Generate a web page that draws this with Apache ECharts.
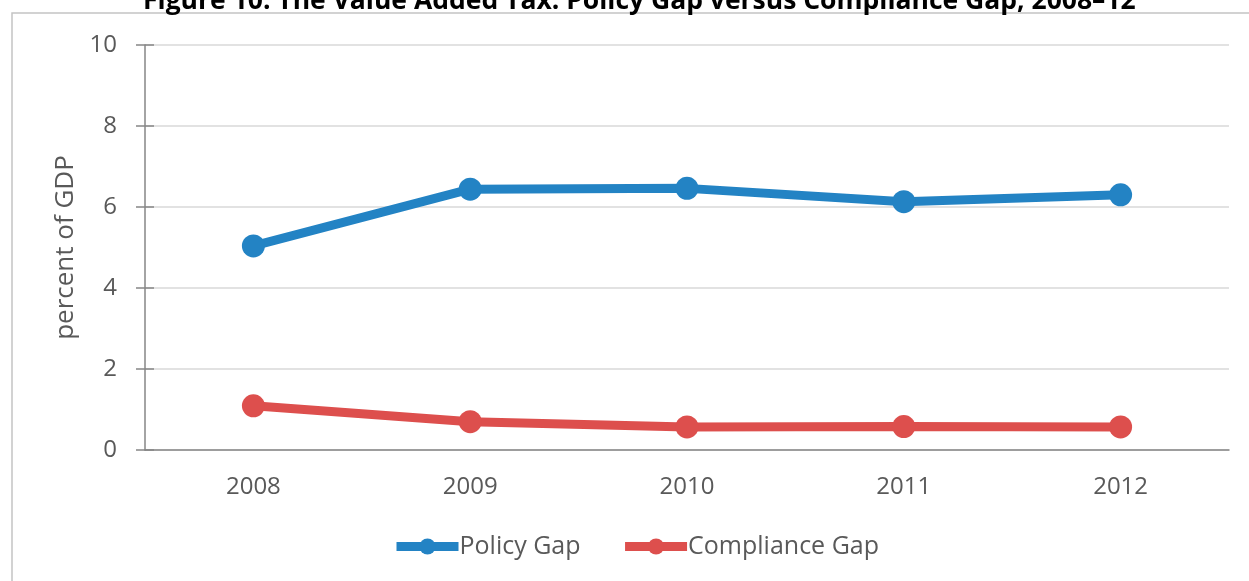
<!DOCTYPE html>
<html>
<head>
<meta charset="utf-8">
<script src="https://cdn.jsdelivr.net/npm/echarts@6/dist/echarts.min.js"></script>
<style>
  html, body { margin: 0; padding: 0; background: #fff; }
  #chart { width: 1249px; height: 581px; }
</style>
</head>
<body>
<div id="chart"></div>
<script>
const years = ['2008', '2009', '2010', '2011', '2012']
const policyGap = [5.04, 6.44, 6.46, 6.13, 6.30]
const complianceGap = [1.09, 0.70, 0.57, 0.58, 0.57]
const yTicks = [0, 2, 4, 6, 8, 10]

const labelColor = '#595959'
const axisColor = '#868686'
const fontFamily = '"Open Sans", "Noto Sans", sans-serif'

const chart = echarts.init(document.getElementById('chart'))

const option = {
  animation: false,
  title: {
    text: 'Figure 10: The Value Added Tax: Policy Gap versus Compliance Gap, 2008–12',
    left: 138,
    top: -17,
    textStyle: { fontFamily, fontSize: 26.5, fontWeight: 'bold', color: '#000' }
  },
  graphic: [{
    type: 'rect',
    shape: { x: 12, y: 13, width: 1300, height: 620 },
    style: { fill: 'none', stroke: '#c4c4c4', lineWidth: 1.5 },
    silent: true
  }],
  legend: {
    top: 529,
    left: 387,
    itemWidth: 62,
    itemHeight: 20,
    itemGap: 40,
    lineStyle: { width: 9 },
    textStyle: { fontFamily, fontSize: 25, color: labelColor, padding: [0, 0, 0, -4] },
    data: ['Policy Gap', 'Compliance Gap']
  },
  grid: { left: 145, right: 20, top: 45, bottom: 131 },
  xAxis: [{
    type: 'category',
    data: years,
    position: 'bottom',
    boundaryGap: true,
    axisLine: { lineStyle: { color: axisColor, width: 1.5 } },
    axisTick: { length: 9, lineStyle: { color: axisColor, width: 1.5 } },
    axisLabel: { margin: 25, fontFamily, fontSize: 24, color: labelColor }
  }, {
    type: 'category',
    data: years,
    position: 'bottom',
    boundaryGap: true,
    axisLine: { show: false },
    axisTick: { inside: true, length: 9, lineStyle: { color: axisColor, width: 1.5 } },
    axisLabel: { show: false }
  }],
  yAxis: [{
    type: 'value',
    min: yTicks[0],
    max: yTicks[yTicks.length - 1],
    interval: 2,
    position: 'left',
    name: 'percent of GDP',
    nameLocation: 'middle',
    nameGap: 62,
    nameTextStyle: { fontFamily, fontSize: 26, color: labelColor },
    axisLine: { show: true, lineStyle: { color: axisColor, width: 1.5 } },
    axisTick: { show: true, length: 9, lineStyle: { color: axisColor, width: 1.5 } },
    axisLabel: { margin: 28, fontFamily, fontSize: 24, color: labelColor },
    splitLine: { lineStyle: { color: '#d9d9d9', width: 1.5 } }
  }, {
    type: 'value',
    min: yTicks[0],
    max: yTicks[yTicks.length - 1],
    interval: 2,
    position: 'left',
    axisLine: { show: false },
    axisTick: { show: true, inside: true, length: 9, lineStyle: { color: axisColor, width: 1.5 } },
    axisLabel: { show: false },
    splitLine: { show: false }
  }],
  series: [
    {
      name: 'Policy Gap',
      type: 'line',
      data: policyGap,
      symbol: 'circle',
      symbolSize: 23,
      lineStyle: { width: 9, color: '#2383c4' },
      itemStyle: { color: '#2383c4' }
    },
    {
      name: 'Compliance Gap',
      type: 'line',
      data: complianceGap,
      symbol: 'circle',
      symbolSize: 23,
      lineStyle: { width: 9, color: '#dd4f4d' },
      itemStyle: { color: '#dd4f4d' }
    }
  ]
}

chart.setOption(option)
</script>
</body>
</html>
